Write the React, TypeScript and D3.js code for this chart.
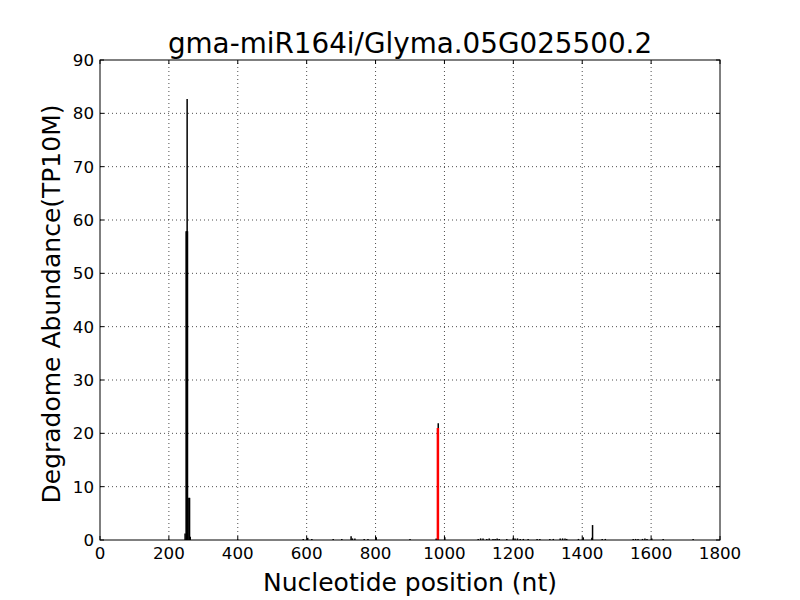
import React from 'react';
import * as d3 from 'd3';

// --- Chart data ---
const TITLE = 'gma-miR164i/Glyma.05G025500.2';
const X_LABEL = 'Nucleotide position (nt)';
const Y_LABEL = 'Degradome Abundance(TP10M)';

const xTicks = [0, 200, 400, 600, 800, 1000, 1200, 1400, 1600, 1800];
const yTicks = [0, 10, 20, 30, 40, 50, 60, 70, 80, 90];

// all degradome tags (nt position, abundance)
const tagPositions = [
  247, 250, 252, 253, 254, 258, 260, 262,
  590, 603, 615, 677, 702, 729, 733, 740, 767, 778, 802, 900, 976, 982, 1001,
  1098, 1105, 1112, 1123, 1130, 1141, 1147, 1153, 1159, 1181, 1200, 1205, 1212, 1220,
  1229, 1243, 1269, 1277, 1306, 1316, 1336, 1343, 1350, 1355, 1389, 1403, 1428, 1430,
  1458, 1467, 1548, 1555, 1562, 1575, 1582, 1588, 1602, 1635, 1722,
];
const tagValues = [
  1.2, 57.9, 57.9, 82.7, 57.9, 7.9, 7.9, 0.6,
  0.2, 0.4, 0.2, 0.2, 0.2, 0.7, 0.3, 0.3, 0.2, 0.2, 0.5, 0.2, 0.3, 21.9, 0.5,
  0.2, 0.3, 0.3, 0.2, 0.3, 0.2, 0.2, 0.3, 0.2, 0.2, 0.4, 0.3, 0.3, 0.2,
  0.2, 0.2, 0.2, 0.2, 0.2, 0.2, 0.3, 0.3, 0.3, 0.2, 0.2, 0.5, 0.4, 2.8,
  0.2, 0.2, 0.2, 0.2, 0.2, 0.2, 0.3, 0.2, 0.3, 0.2, 0.2,
];

// predicted cleavage site
const sitePositions = [981];
const siteValues = [21];

const W = 800;
const H = 600;
const margin = { top: 60, right: 80, bottom: 60, left: 100 };
const FONT = '"DejaVu Sans", sans-serif';

export default function App() {
  const x = d3.scaleLinear().domain([0, 1800]).range([margin.left, W - margin.right]);
  const y = d3.scaleLinear().domain([0, 90]).range([H - margin.bottom, margin.top]);
  const [x0, x1] = x.range();
  const [y0, y1] = y.range();

  return (
    <div style={{ position: 'fixed', left: 0, top: 0 }}>
      <svg width={W} height={H} style={{ display: 'block', background: '#fff' }} fontFamily={FONT}>
        <rect x={0} y={0} width={W} height={H} fill="#fff" />

        {/* grid */}
        <g stroke="#000" strokeWidth={0.7} strokeDasharray="1,3">
          {xTicks.slice(1, -1).map(t => (
            <line key={'gx' + t} x1={x(t)} x2={x(t)} y1={y0} y2={y1} />
          ))}
          {yTicks.slice(1, -1).map(t => (
            <line key={'gy' + t} x1={x0} x2={x1} y1={y(t)} y2={y(t)} />
          ))}
        </g>

        {/* tags */}
        <g stroke="#000" strokeWidth={1.5}>
          {tagPositions.map((p, i) => (
            <line key={'t' + i} x1={x(p)} x2={x(p)} y1={y(0)} y2={y(tagValues[i])} />
          ))}
        </g>
        <g stroke="#ff0000" strokeWidth={2.5}>
          {sitePositions.map((p, i) => (
            <line key={'s' + i} x1={x(p)} x2={x(p)} y1={y(0)} y2={y(siteValues[i])} />
          ))}
        </g>

        {/* ticks, inside on all four sides */}
        <g stroke="#000" strokeWidth={1}>
          {xTicks.map(t => (
            <g key={'tx' + t}>
              <line x1={x(t)} x2={x(t)} y1={y0} y2={y0 - 4} />
              <line x1={x(t)} x2={x(t)} y1={y1} y2={y1 + 4} />
            </g>
          ))}
          {yTicks.map(t => (
            <g key={'ty' + t}>
              <line x1={x0} x2={x0 + 4} y1={y(t)} y2={y(t)} />
              <line x1={x1} x2={x1 - 4} y1={y(t)} y2={y(t)} />
            </g>
          ))}
        </g>

        {/* frame */}
        <rect x={x0} y={y1} width={x1 - x0} height={y0 - y1} fill="none" stroke="#000" strokeWidth={1} />

        {/* tick labels */}
        <g fontSize={16.7} fill="#000">
          {xTicks.map(t => (
            <text key={'lx' + t} x={x(t)} y={y0 + 19} textAnchor="middle">{t}</text>
          ))}
          {yTicks.map(t => (
            <text key={'ly' + t} x={x0 - 6} y={y(t)} textAnchor="end" dominantBaseline="central">{t}</text>
          ))}
        </g>

        {/* labels */}
        <text x={(x0 + x1) / 2} y={53} textAnchor="middle" fontSize={27.8}>{TITLE}</text>
        <text x={(x0 + x1) / 2} y={591} textAnchor="middle" fontSize={25}>{X_LABEL}</text>
        <text transform={`translate(60,${(y0 + y1) / 2 + 4}) rotate(-90)`} textAnchor="middle" fontSize={25}>{Y_LABEL}</text>
      </svg>
    </div>
  );
}
